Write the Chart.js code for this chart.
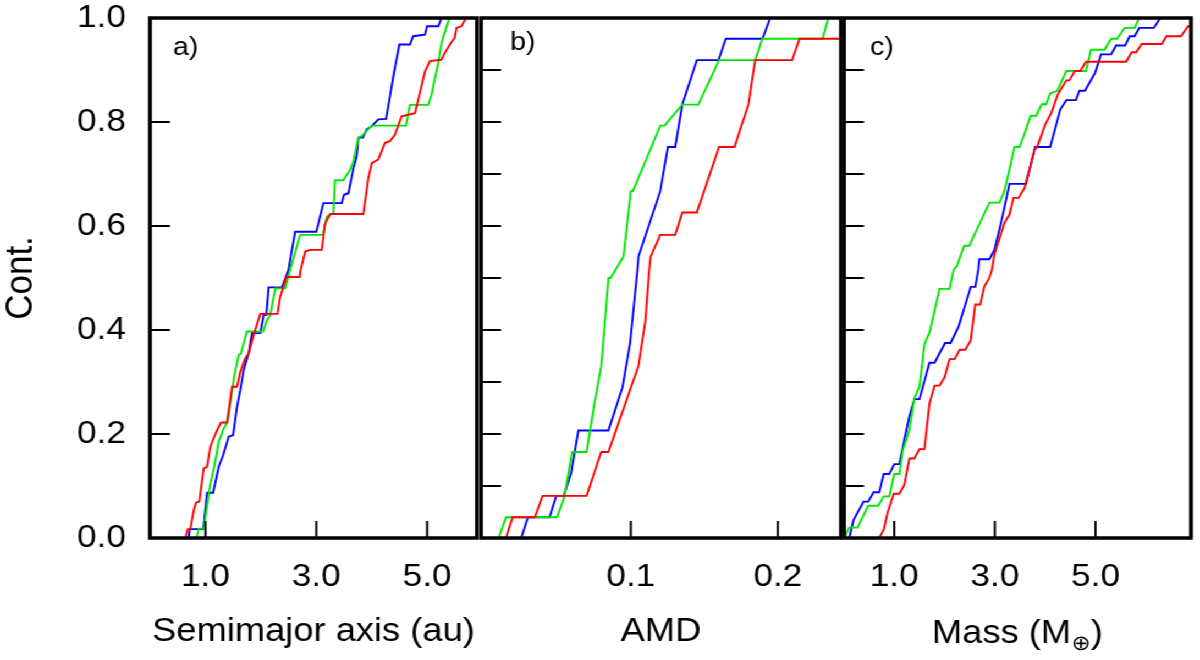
<!DOCTYPE html>
<html>
<head>
<meta charset="utf-8">
<script src="https://cdn.jsdelivr.net/npm/chart.js@4.4.0/dist/chart.umd.min.js"></script>
<style>
  html, body { margin: 0; padding: 0; background: #ffffff; overflow: hidden; }
  #wrap { position: relative; width: 1091px; height: 660px; transform: scaleX(1.0999083); transform-origin: 0 0; }
  #wrap canvas { position: absolute; left: 0; top: 0; }
</style>
</head>
<body>
<div id="wrap">
  <canvas id="ca" width="1091" height="660"></canvas>
  <canvas id="cb" width="1091" height="660"></canvas>
  <canvas id="cc" width="1091" height="660"></canvas>
</div>
<script>
// ---------- Data ----------
const seriesNames = ['red', 'green', 'blue'];
const seriesColors = ['#ff0000', '#00e600', '#0000ff'];
const panelLabels = ['a)', 'b)', 'c)'];
const xTitles = ['Semimajor axis (au)', 'AMD', 'Mass (M⊕)'];
const yTitle = 'Cont.';

const xTicksA = [1.0, 3.0, 5.0];
const xTicksB = [0.1, 0.2];
const xTicksC = [1.0, 3.0, 5.0];
const yLabelTicks = [0.0, 0.2, 0.4, 0.6, 0.8, 1.0];
const yMinorTicks = [0.1, 0.2, 0.3, 0.4, 0.5, 0.6, 0.7, 0.8, 0.9];

// Panel a) Semimajor axis (au)
const aRed = [[0.64,0],[0.68,0.017],[0.73,0.017],[0.79,0.054],[0.83,0.068],[0.89,0.07],[0.97,0.134],[1.03,0.137],[1.09,0.176],[1.2,0.205],[1.28,0.222],[1.39,0.222],[1.48,0.291],[1.57,0.291],[1.63,0.32],[1.72,0.346],[1.78,0.355],[1.87,0.39],[1.99,0.431],[2.3,0.431],[2.35,0.464],[2.41,0.484],[2.46,0.502],[2.7,0.502],[2.72,0.516],[2.8,0.551],[2.89,0.554],[3.1,0.554],[3.16,0.605],[3.25,0.623],[3.85,0.623],[3.94,0.692],[4.0,0.721],[4.12,0.728],[4.24,0.76],[4.33,0.763],[4.42,0.776],[4.54,0.811],[4.78,0.817],[4.87,0.856],[4.96,0.897],[5.05,0.917],[5.26,0.92],[5.32,0.933],[5.41,0.949],[5.5,0.962],[5.53,0.981],[5.62,0.984],[5.7,1.0]];
const aGreen = [[0.84,0],[0.88,0.018],[0.97,0.018],[1.02,0.054],[1.08,0.099],[1.16,0.137],[1.24,0.185],[1.32,0.208],[1.4,0.224],[1.45,0.259],[1.52,0.311],[1.6,0.352],[1.64,0.355],[1.75,0.397],[2.04,0.397],[2.1,0.416],[2.17,0.429],[2.26,0.48],[2.44,0.48],[2.53,0.516],[2.62,0.55],[2.71,0.583],[3.12,0.583],[3.19,0.618],[3.31,0.625],[3.34,0.688],[3.49,0.688],[3.61,0.708],[3.67,0.724],[3.76,0.77],[3.82,0.773],[4.0,0.793],[4.62,0.793],[4.69,0.833],[5.02,0.833],[5.08,0.852],[5.2,0.914],[5.26,0.952],[5.4,1.0]];
const aBlue = [[0.7,0],[0.72,0.017],[0.96,0.017],[0.98,0.035],[1.03,0.087],[1.14,0.087],[1.24,0.137],[1.32,0.159],[1.42,0.195],[1.5,0.198],[1.57,0.252],[1.63,0.285],[1.69,0.323],[1.78,0.355],[1.84,0.394],[1.99,0.394],[2.05,0.429],[2.1,0.429],[2.14,0.482],[2.38,0.482],[2.5,0.516],[2.56,0.554],[2.62,0.589],[3.0,0.589],[3.13,0.644],[3.46,0.644],[3.5,0.66],[3.58,0.663],[3.67,0.711],[3.73,0.734],[3.76,0.77],[3.84,0.77],[3.91,0.786],[4.0,0.792],[4.12,0.805],[4.26,0.806],[4.32,0.843],[4.39,0.888],[4.5,0.949],[4.69,0.949],[4.75,0.965],[4.96,0.968],[5.0,0.984],[5.2,0.984],[5.26,1.0]];

// Panel b) AMD
const bRed = [[0.015,0],[0.0195,0.04],[0.0346,0.04],[0.0399,0.081],[0.0699,0.081],[0.0798,0.1655],[0.0847,0.1655],[0.1052,0.331],[0.1098,0.416],[0.1125,0.516],[0.1135,0.5415],[0.12,0.583],[0.1302,0.583],[0.135,0.626],[0.1449,0.626],[0.16,0.752],[0.1705,0.752],[0.18,0.8335],[0.1846,0.919],[0.2097,0.919],[0.2148,0.96],[0.26,0.96]];
const bGreen = [[0.01,0],[0.015,0.04],[0.0497,0.04],[0.0548,0.0795],[0.06,0.1655],[0.0699,0.1655],[0.0752,0.259],[0.0798,0.33],[0.0848,0.5],[0.0862,0.5],[0.095,0.5415],[0.1,0.667],[0.1014,0.667],[0.12,0.793],[0.1229,0.793],[0.135,0.8335],[0.1459,0.8335],[0.16,0.919],[0.1846,0.919],[0.1895,0.96],[0.2304,0.96],[0.2344,1.0]];
const bBlue = [[0.0254,0],[0.0299,0.04],[0.0447,0.04],[0.0492,0.081],[0.0543,0.081],[0.0593,0.1245],[0.0643,0.2066],[0.0847,0.2066],[0.0943,0.29],[0.0995,0.375],[0.1045,0.516],[0.1052,0.5415],[0.12,0.667],[0.1252,0.752],[0.1302,0.752],[0.135,0.8335],[0.1449,0.919],[0.1597,0.919],[0.1646,0.96],[0.1896,0.96],[0.1948,1.0]];

// Panel c) Mass (M⊕)
const cRed = [[0.7,0],[0.79,0.016],[0.87,0.05],[0.99,0.085],[1.1,0.085],[1.2,0.102],[1.3,0.153],[1.4,0.153],[1.5,0.171],[1.6,0.171],[1.7,0.259],[1.8,0.293],[1.9,0.293],[2.0,0.309],[2.1,0.344],[2.2,0.344],[2.3,0.362],[2.41,0.362],[2.52,0.38],[2.61,0.449],[2.71,0.449],[2.79,0.484],[2.89,0.5],[2.94,0.516],[2.99,0.545],[3.19,0.606],[3.29,0.622],[3.37,0.654],[3.47,0.654],[3.59,0.673],[3.79,0.747],[3.84,0.752],[4.0,0.795],[4.12,0.817],[4.25,0.853],[4.42,0.88],[4.48,0.88],[4.59,0.898],[4.7,0.898],[4.81,0.916],[5.61,0.916],[5.72,0.934],[5.81,0.934],[5.92,0.95],[6.32,0.95],[6.41,0.965],[6.7,0.965],[6.84,0.984],[7.0,0.984]];
const cGreen = [[0.005,0],[0.1,0.02],[0.27,0.02],[0.48,0.062],[0.68,0.062],[0.79,0.08],[0.9,0.08],[1.0,0.123],[1.1,0.123],[1.17,0.169],[1.3,0.208],[1.4,0.269],[1.5,0.291],[1.6,0.373],[1.7,0.395],[1.9,0.479],[2.1,0.479],[2.18,0.516],[2.24,0.522],[2.39,0.562],[2.49,0.562],[2.89,0.645],[3.09,0.645],[3.19,0.667],[3.39,0.752],[3.49,0.752],[3.57,0.772],[3.71,0.812],[3.82,0.812],[3.93,0.834],[4.02,0.834],[4.1,0.855],[4.24,0.86],[4.42,0.898],[4.81,0.898],[4.91,0.939],[5.18,0.939],[5.31,0.96],[5.43,0.96],[5.58,0.981],[5.78,0.981],[5.87,1.0]];
const cBlue = [[0.105,0],[0.19,0.035],[0.39,0.07],[0.48,0.07],[0.59,0.088],[0.7,0.088],[0.79,0.123],[0.9,0.123],[1.0,0.142],[1.1,0.142],[1.2,0.189],[1.3,0.234],[1.4,0.267],[1.5,0.267],[1.7,0.337],[1.8,0.337],[2.01,0.375],[2.12,0.375],[2.28,0.407],[2.52,0.483],[2.61,0.483],[2.67,0.516],[2.69,0.536],[2.89,0.536],[2.99,0.554],[3.09,0.593],[3.18,0.631],[3.29,0.681],[3.62,0.681],[3.8,0.752],[4.1,0.752],[4.3,0.824],[4.42,0.842],[4.61,0.842],[4.68,0.86],[4.79,0.86],[4.99,0.894],[5.11,0.93],[5.31,0.93],[5.41,0.947],[5.59,0.947],[5.68,0.965],[5.78,0.965],[5.87,0.981],[6.16,0.981],[6.29,1.0]];

// ---------- Rendering ----------
const CW = 1091;                 // canvas width (page is stretched horizontally to 1200)
const SX = 1200 / CW;
const X = px => px / SX;         // page px -> canvas px (horizontal)
const FONT = '"Liberation Sans", Arial, Helvetica, sans-serif';
const TICK_FONT = { family: FONT, size: 32 };
const TITLE_FONT = { family: FONT, size: 33 };

const framePlugin = {
  id: 'frame',
  afterDatasetsDraw(chart, args, opts) {
    const { ctx, chartArea: ca, scales } = chart;
    ctx.save();
    ctx.strokeStyle = '#000';
    ctx.lineWidth = 2;
    ctx.beginPath();
    scales.x.ticks.forEach(t => {
      const px = scales.x.getPixelForValue(t.value);
      ctx.moveTo(px, ca.bottom);
      ctx.lineTo(px, ca.bottom - 17);
    });
    scales.y.ticks.forEach(t => {
      if (t.value <= 0.0001 || t.value >= 0.9999) return;
      const py = scales.y.getPixelForValue(t.value);
      ctx.moveTo(ca.left, py);
      ctx.lineTo(ca.left + X(20), py);
    });
    ctx.stroke();
    ctx.lineWidth = 3.5;
    ctx.strokeRect(ca.left, ca.top, ca.right - ca.left, ca.bottom - ca.top);
    ctx.fillStyle = '#000';
    ctx.font = '26px ' + FONT;
    ctx.textBaseline = 'middle';
    ctx.textAlign = 'left';
    ctx.fillText(opts.label, opts.labelX, opts.labelY);
    if (opts.subTitle) {
      const [main, sub, tail] = opts.subTitle;
      const big = '33px ' + FONT, small = '21px ' + FONT;
      ctx.font = big; const w1 = ctx.measureText(main).width; const w3 = ctx.measureText(tail).width;
      ctx.font = small; const w2 = ctx.measureText(sub).width;
      let x = (ca.left + ca.right) / 2 - (w1 + w2 + w3) / 2;
      const y = 643;
      ctx.textBaseline = 'alphabetic';
      ctx.font = big; ctx.fillText(main, x, y); x += w1;
      ctx.font = small; ctx.fillText(sub, x, y + 7); x += w2;
      ctx.font = big; ctx.fillText(tail, x, y);
    }
    ctx.restore();
  }
};

function makeDatasets(series) {
  return series.map((pts, i) => ({
    label: seriesNames[i],
    data: pts.map(p => ({ x: p[0], y: p[1] })),
    borderColor: seriesColors[i],
    borderWidth: 1.9,
    pointRadius: 0,
    fill: false,
    tension: 0
  }));
}

function makeChart(id, cfg) {
  const showY = cfg.showY;
  return new Chart(document.getElementById(id), {
    type: 'line',
    data: { datasets: makeDatasets(cfg.series) },
    options: {
      responsive: false,
      animation: false,
      devicePixelRatio: 1,
      layout: { padding: { left: cfg.padLeft, right: cfg.padRight, top: 18, bottom: 0 } },
      plugins: {
        legend: { display: false },
        tooltip: { enabled: false },
        frame: { label: cfg.label, labelX: cfg.labelX, labelY: cfg.labelY, subTitle: cfg.subTitle || null }
      },
      scales: {
        x: {
          type: 'linear',
          min: cfg.xMin, max: cfg.xMax,
          afterBuildTicks: s => { s.ticks = cfg.xTicks.map(v => ({ value: v })); },
          afterFit: s => { s.height = 122; s.paddingLeft = 0; s.paddingRight = 0; },
          grid: { display: false, drawTicks: false },
          border: { display: false },
          ticks: { font: TICK_FONT, color: '#000', padding: 20, maxRotation: 0, autoSkip: false,
                   callback: v => Number(v).toFixed(1) },
          title: { display: !cfg.subTitle, text: cfg.xTitle, font: TITLE_FONT, color: '#000',
                   padding: { top: 0, bottom: 8 } }
        },
        y: {
          type: 'linear',
          min: 0, max: 1,
          afterBuildTicks: s => {
            s.ticks = (showY ? yLabelTicks : yMinorTicks).map(v => ({ value: v }));
          },
          afterFit: s => { s.width = showY ? X(150) : 0; s.paddingTop = 0; s.paddingBottom = 0; },
          grid: { display: false, drawTicks: false },
          border: { display: false },
          ticks: { display: showY, font: TICK_FONT, color: '#000', padding: X(24),
                   callback: v => Number(v).toFixed(1) },
          title: { display: showY, text: yTitle, font: { family: FONT, size: 35, lineHeight: 1.1 }, color: '#000',
                   padding: { top: 0, bottom: 0 } }
        }
      }
    },
    plugins: [framePlugin]
  });
}

makeChart('ca', { series: [aRed, aGreen, aBlue], padLeft: 0, padRight: CW - X(477), xMin: 0, xMax: 5.9,
  xTicks: xTicksA, xTitle: xTitles[0], showY: true, label: panelLabels[0], labelX: X(173), labelY: 48 });
makeChart('cb', { series: [bRed, bGreen, bBlue], padLeft: X(481), padRight: CW - X(841), xMin: -0.002, xMax: 0.243,
  xTicks: xTicksB, xTitle: xTitles[1], showY: false, label: panelLabels[1], labelX: X(510), labelY: 43 });
makeChart('cc', { series: [cRed, cGreen, cBlue], padLeft: X(844), padRight: CW - X(1191), xMin: 0, xMax: 6.9,
  xTicks: xTicksC, xTitle: xTitles[2], subTitle: ['Mass (M', '⊕', ')'], showY: false, label: panelLabels[2], labelX: X(870), labelY: 48 });
</script>
</body>
</html>
